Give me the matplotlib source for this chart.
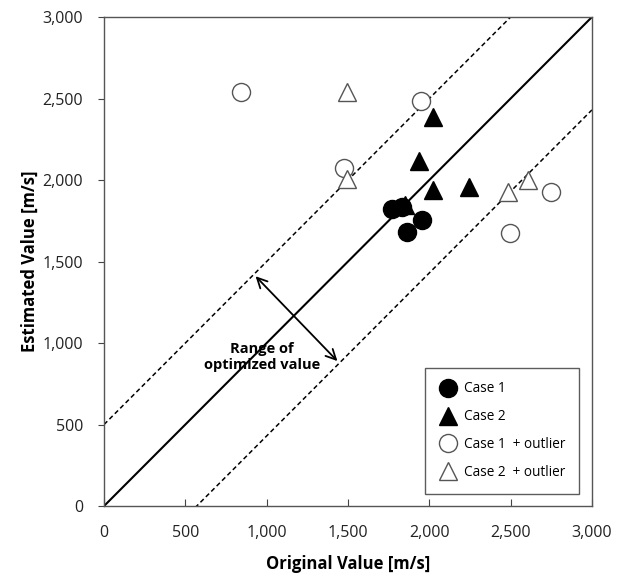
import matplotlib
matplotlib.use("Agg")
import matplotlib.pyplot as plt
import numpy as np

plt.rcParams['font.family'] = ['Open Sans', 'DejaVu Sans']

case1_x = [1770, 1832, 1955, 1863]
case1_y = [1822, 1834, 1755, 1681]
case2_x = [2021, 1934, 2024, 2242, 1850]
case2_y = [2388, 2118, 1939, 1955, 1847]
case1o_x = [842, 1949, 1475, 2496, 2748]
case1o_y = [2540, 2487, 2072, 1673, 1928]
case2o_x = [1496, 1496, 2486, 2608]
case2o_y = [2542, 2004, 1928, 2000]

upper_offset = 500
lower_offset = -570
ticks = [0, 500, 1000, 1500, 2000, 2500, 3000]
tick_labels = ["0", "500", "1,000", "1,500", "2,000", "2,500", "3,000"]

fig = plt.figure(figsize=(6.32, 5.77), dpi=100)
ax = fig.add_axes([0.1646, 0.123, 0.772, 0.8475])

line = np.array([0, 3000])
ax.plot(line, line, color='black', lw=1.5, zorder=1)
ax.plot(line, line + upper_offset, color='black', lw=1.1, ls=(0, (3, 2)), zorder=1)
ax.plot(line, line + lower_offset, color='black', lw=1.1, ls=(0, (3, 2)), zorder=1)

ms = 13
ax.plot(case2_x, case2_y, '^', color='black', ms=ms, ls='none', label='Case 2', zorder=3)
ax.plot(case1_x, case1_y, 'o', color='black', ms=ms, ls='none', label='Case 1', zorder=4)
ax.plot(case1o_x, case1o_y, 'o', mfc='white', mec='#555555', mew=1.0, ms=ms, ls='none',
        label='Case 1  + outlier', zorder=3)
ax.plot(case2o_x, case2o_y, '^', mfc='white', mec='#555555', mew=1.0, ms=ms, ls='none',
        label='Case 2  + outlier', zorder=3)

ax.annotate('', xy=(920, 1422), xytext=(1447, 877),
            arrowprops=dict(arrowstyle='<->', color='black', lw=1.3, mutation_scale=18))
ax.text(971, 914, 'Range of\noptimized value', ha='center', va='center',
        fontsize=10.5, fontweight='bold', linespacing=1.1)

ax.set_xlim(0, 3000)
ax.set_ylim(0, 3000)
ax.set_xticks(ticks)
ax.set_xticklabels(tick_labels)
ax.set_yticks(ticks)
ax.set_yticklabels(tick_labels)
ax.tick_params(axis='x', direction='in', length=5, pad=14, labelsize=11.5,
               color='#444444', labelcolor='#222222')
ax.tick_params(axis='y', direction='out', length=4, pad=11, labelsize=11.5,
               color='#444444', labelcolor='#222222')
for s in ax.spines.values():
    s.set_color('#555555')
    s.set_linewidth(1.0)

ax.set_xlabel('Original Value [m/s]', fontsize=12, fontweight='bold', labelpad=10)
ax.set_ylabel('Estimated Value [m/s]', fontsize=12, fontweight='bold', labelpad=3)

h, l = ax.get_legend_handles_labels()
order = [1, 0, 2, 3]
leg = ax.legend([h[i] for i in order], [l[i] for i in order], loc='lower right',
                bbox_to_anchor=(0.974, 0.025), fontsize=9.8, frameon=True, fancybox=False,
                edgecolor='#333333', labelspacing=0.95, handletextpad=0.45, borderpad=1.0,
                handlelength=1.4, borderaxespad=0)
leg.get_frame().set_linewidth(1.0)
leg.set_zorder(5)

fig.savefig('out.png', dpi=100)
